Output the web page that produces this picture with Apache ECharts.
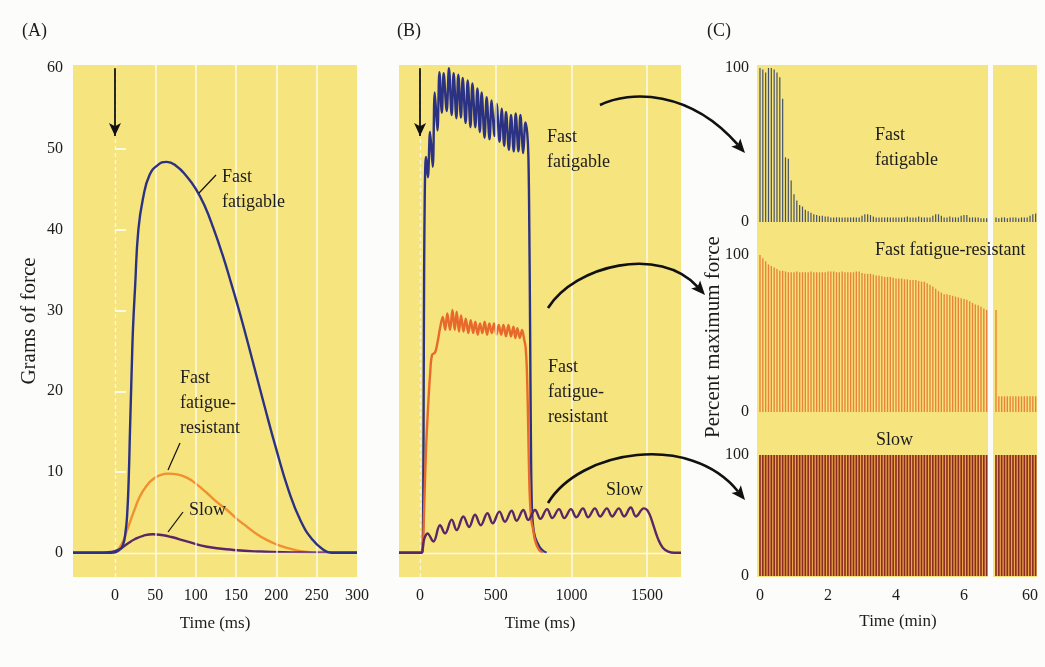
<!DOCTYPE html>
<html><head><meta charset="utf-8">
<script src="https://cdn.jsdelivr.net/npm/echarts@6/dist/echarts.min.js"></script>
<style>html,body{margin:0;padding:0;background:#fcfcfa}#c{width:1045px;height:667px}</style>
</head><body><div id="c"></div>
<script>
// ---------------- DATA ----------------
// Panel A: single twitch, [time ms, grams]
const twitchFF = [[-52,0],[-5,0],[5,0.3],[10,1],[13,2.5],[15,4.5],[17,9],[18.6,15],[20,20],[21,23.5],[22.3,27.6],[25,33],[29,40],[35,44],[43,46.8],[53,48],[64,48.4],[76,47.9],[89,46.6],[100,45.1],[111,43],[122,40.2],[133,37],[144,33.4],[155,29.6],[170,24],[185,18.3],[200,12.8],[215,7.8],[230,4],[245,1.6],[258,0.4],[268,0],[300,0]];
const twitchFR = [[-52,0],[-10,0],[0,0.2],[8,1],[15,2.8],[23,5],[31,7],[40,8.4],[47,9.1],[56,9.6],[66,9.8],[77,9.7],[89,9.3],[101,8.5],[114,7.4],[126,6.3],[139,5.3],[151,4.2],[164,3.2],[176,2.3],[188,1.6],[200,1.05],[213,0.6],[225,0.3],[238,0.1],[255,0],[300,0]];
const twitchS = [[-52,0],[-15,0],[-5,0.1],[5,0.4],[15,1.1],[25,1.7],[35,2.1],[47,2.3],[58,2.2],[70,1.95],[89,1.4],[114,0.75],[147,0.35],[180,0.15],[220,0.05],[260,0],[300,0]];
// Panel B: tetanus, [time ms, grams]
const tetFF = [[-139,0],[14,0],[18,1],[21,6],[24,20],[27,35],[31,44],[35,48],[39.6,49],[52,46.5],[66,52.1],[84,47.8],[97,57],[115,52.3],[128,59.5],[144,54.5],[156,59.4],[176,54.7],[191,60],[209,54.2],[222,59.4],[240,53.8],[253,59.2],[270,53.9],[282,58.8],[301,53.2],[315,58.5],[333,52.7],[346,58.1],[365,52.7],[379,57.5],[395,52.1],[407,57],[426,51.4],[440,56.4],[459,51.2],[473,56],[492,51.6],[506,55.6],[525,50.9],[539,55],[556,50.4],[568,54.6],[587,49.9],[601,54.2],[619,49.7],[632,54.4],[650,49.7],[663,54.2],[682,49.5],[696,53.3],[708,52],[716,49],[722,40],[727,28],[732,15],[737,7],[745,3.6],[760,1.9],[790,0.7],[815,0.2],[837,0]];
const tetFR = [[-139,0],[15,0],[20,1],[28,6],[40,13],[53,18],[66,22],[79,24.5],[99,24.8],[115,26],[132,27.8],[150,29.2],[166,27.6],[180,29.65],[198,27.6],[214,30.06],[229,27.6],[242,29.85],[257,27.4],[271,29.4],[287,27.4],[302,29.0],[319,27.2],[335,28.8],[351,27.2],[365,28.6],[381,27.0],[396,28.4],[412,27.2],[427,28.6],[443,27.0],[458,28.4],[474,27.2],[489,28.4],[505,27.0],[520,28.2],[536,27.0],[551,28.2],[568,26.8],[584,28.2],[601,26.8],[617,28.0],[630,26.6],[643,27.8],[659,26.6],[674,27.6],[688,26.4],[697,25.5],[705,23],[712,18],[718,12],[725,7],[735,4],[746,3],[760,1.5],[785,0.4],[810,0]];
const tetS = [[-139,0],[10,0],[18,0.6],[26,1.6],[36,2.1],[48,2.4],[88,1.4],[132,3.4],[165,2.4],[209,4.1],[242,2.8],[286,4.5],[324,3.2],[363,4.7],[401,3.4],[445,4.9],[480,3.65],[524,5.1],[561,3.85],[605,5.2],[638,3.97],[682,5.3],[715,4.06],[760,5.3],[795,4.2],[839,5.4],[874,4.3],[918,5.4],[953,4.3],[997,5.4],[1032,4.4],[1076,5.5],[1111,4.4],[1155,5.5],[1190,4.5],[1234,5.5],[1269,4.5],[1313,5.5],[1348,4.5],[1392,5.6],[1427,4.5],[1478,5.5],[1500,5.3],[1520,4.6],[1545,3.2],[1575,1.6],[1605,0.6],[1640,0.15],[1680,0],[1724,0]];
// Panel C: percent of maximum force per stimulus train (one every 5 s); right block = around 60 min
const cStepMin = 5 / 60;
const cRightStart = 59;
const ffLeft = [100,99,97,100,100,99,97,94,80,42,41,27,18,14,11,10,8,7,6,5,4.5,4,4,3.5,
  3.5,3,3,3,3,3,3,3,3,3,3,3,
  4,5,5,4.5,3.5,
  3,3,3,3,3,3,3,3,3,3,3,3.5,3,3,3,3.5,3,3,3,3,
  4,5,5,4,
  3,3,3.5,3,3,3,4,4.5,4.5,3,3,3,3,2.5,2.5,2.5];
const ffRight = [3,2.5,3,3,2.5,3,3,3,2.5,3,3,3,4,5,5.5];
const frLeft = [100,98,96,94,93,92,91,90,90,89.5,
  89,89,89,89.5,89,89,89,89,89.5,89,89,89,89,89,89.5,89.5,89.5,89,89,89.5,89,89,89,89,89.5,89.5,
  88.5,88,88,88,87.5,87,87,
  86.5,86,86,86,85.5,85,85,85,84.5,84.5,
  84,84,84,83.5,83,83,82,
  81,80,78.5,
  77,76,75,75,74.5,74,73.5,
  73,72.5,72,71.5,
  70.5,69.5,68.5,68,
  67,66,65];
const frRight = [65,10,10,10,10,10,10,10,10,10,10,10,10,10,10];
const sLeft = [100,100,100,100,100,100,100,100,100,100,100,100,100,100,100,100,100,100,100,100,
  100,100,100,100,100,100,100,100,100,100,100,100,100,100,100,100,100,100,100,100,
  100,100,100,100,100,100,100,100,100,100,100,100,100,100,100,100,100,100,100,100,
  100,100,100,100,100,100,100,100,100,100,100,100,100,100,100,100,100,100,100,100,100];
const sRight = [100,100,100,100,100,100,100,100,100,100,100,100,100,100,100];
// tick labels / gridline positions
const ticksAx = [0,50,100,150,200,250,300];
const ticksAy = [0,10,20,30,40,50,60];
const gridAx = [50,100,150,200,250];
const ticksBx = [0,500,1000,1500];
const gridBx = [500,1000,1500];
const ticksCLeft = [0,2,4,6];
const ticksCRight = [60];
const ticksCy = [0,100];

// ---------------- STYLE ----------------
const FONT = '"Liberation Serif","Times New Roman",serif';
const YEL = '#f6e47f';
const TXT = '#1c1c1c';
const BLUE = '#2c3283', ORANGE_A = '#f0902e', ORANGE_B = '#e8692c', PURPLE = '#5a2666';

const chart = echarts.init(document.getElementById('c'));
const toLeft = a => a.map((v, i) => [i * cStepMin, v]);
const toRight = a => a.map((v, i) => [cRightStart + i * cStepMin, v]);
const plain = v => String(v);
const lab = (extra) => Object.assign({fontFamily: FONT, fontSize: 16, color: TXT}, extra);
const gridBase = {show: true, backgroundColor: YEL, borderWidth: 0, containLabel: false};

const grids = [
  {left: 73, top: 65, width: 284, height: 512},
  {left: 399, top: 65, width: 282, height: 512},
  {left: 757, top: 65, width: 231, height: 172}, {left: 993, top: 65, width: 44, height: 172},
  {left: 757, top: 237, width: 231, height: 188}, {left: 993, top: 237, width: 44, height: 188},
  {left: 757, top: 425, width: 231, height: 152}, {left: 993, top: 425, width: 44, height: 152}
].map(g => Object.assign({}, gridBase, g));

const noAxis = {axisLine: {show: false}, axisTick: {show: false}, splitLine: {show: false}};
const xAxes = [
  Object.assign({gridIndex: 0, type: 'value', min: -52, max: 300, axisLabel: lab({customValues: ticksAx, margin: 11, formatter: plain}),
    name: 'Time (ms)', nameLocation: 'middle', nameGap: 38, nameTextStyle: lab({fontSize: 17})}, noAxis),
  Object.assign({gridIndex: 1, type: 'value', min: -139, max: 1724, axisLabel: lab({customValues: ticksBx, margin: 11, formatter: plain}),
    name: 'Time (ms)', nameLocation: 'middle', nameGap: 38, nameTextStyle: lab({fontSize: 17})}, noAxis)
];
const cxMinL = -0.088, cxMaxL = 6.706, cxMinR = 58.912, cxMaxR = 60.206;
for (let r = 0; r < 3; r++) {
  const bottom = r === 2;
  xAxes.push(Object.assign({gridIndex: 2 + r * 2, type: 'value', min: cxMinL, max: cxMaxL,
    axisLabel: bottom ? lab({customValues: ticksCLeft, margin: 11, formatter: plain}) : {show: false}}, noAxis));
  xAxes.push(Object.assign({gridIndex: 3 + r * 2, type: 'value', min: cxMinR, max: cxMaxR,
    axisLabel: bottom ? lab({customValues: ticksCRight, margin: 11, formatter: plain}) : {show: false}}, noAxis));
}
const yAxes = [
  {gridIndex: 0, type: 'value', min: -3, max: 60.4, axisLine: {show: false}, splitLine: {show: false},
    axisTick: {show: true, inside: true, length: 11, customValues: [10,20,30,40,50], lineStyle: {color: 'rgba(255,255,255,0.8)', width: 2}},
    axisLabel: lab({customValues: ticksAy, margin: 10, formatter: plain}),
    name: 'Grams of force', nameLocation: 'middle', nameGap: 33, nameTextStyle: lab({fontSize: 21})},
  Object.assign({gridIndex: 1, type: 'value', min: -3, max: 60.4, axisLabel: {show: false}}, noAxis)
];
const cyRanges = [[-9.74, 101.95], [-8.28, 111.46], [-0.83, 124.8]];
for (let r = 0; r < 3; r++) {
  yAxes.push(Object.assign({gridIndex: 2 + r * 2, type: 'value', min: cyRanges[r][0], max: cyRanges[r][1],
    axisLabel: lab({customValues: ticksCy, margin: 8, formatter: plain})}, noAxis));
  yAxes.push(Object.assign({gridIndex: 3 + r * 2, type: 'value', min: cyRanges[r][0], max: cyRanges[r][1],
    axisLabel: {show: false}}, noAxis));
}

const lineS = (data, ax, color, z, smooth) => ({type: 'line', data, xAxisIndex: ax, yAxisIndex: ax, showSymbol: false, symbol: 'none',
  smooth, z, lineStyle: {color, width: 2.4}, silent: true});
const whiteLines = (ax, xs) => ({type: 'line', data: [], xAxisIndex: ax, yAxisIndex: ax, z: 1, silent: true,
  markLine: {silent: true, symbol: ['none', 'none'], label: {show: false}, animation: false,
    lineStyle: {color: 'rgba(255,255,255,0.8)', width: 1.6, type: 'solid'},
    data: xs.map(v => ({xAxis: v})).concat([{yAxis: 0, lineStyle: {color: 'rgba(255,255,255,0.75)', width: 1.4}},
      {xAxis: 0, lineStyle: {type: [4, 3], color: 'rgba(255,255,255,0.7)', width: 1.4}}])}});
const stimArrow = (ax) => ({type: 'line', data: [], xAxisIndex: ax, yAxisIndex: ax, z: 6, silent: true,
  markLine: {silent: true, symbol: ['none', 'arrow'], symbolSize: [9, 13], label: {show: false}, animation: false,
    lineStyle: {color: '#111', width: 1.8, type: 'solid'},
    data: [[{coord: [0, 60]}, {coord: [0, 51.6]}]]}});
const barS = (data, ax, color, w, z) => ({type: 'bar', data, xAxisIndex: ax, yAxisIndex: ax, barWidth: w, z,
  itemStyle: {color}, silent: true, animation: false});

const series = [
  whiteLines(0, gridAx), stimArrow(0),
  lineS(twitchFR, 0, ORANGE_A, 3, 0.5), lineS(twitchS, 0, PURPLE, 4, 0.5), lineS(twitchFF, 0, BLUE, 5, 0.5),
  whiteLines(1, gridBx), stimArrow(1),
  lineS(tetFF, 1, BLUE, 3, 0.35), lineS(tetFR, 1, ORANGE_B, 4, 0.35), lineS(tetS, 1, PURPLE, 5, 0.4),
  barS(toLeft(ffLeft), 2, '#46526a', 1.2, 3), barS(toRight(ffRight), 3, '#46526a', 1.2, 3),
  barS(toLeft(frLeft), 4, '#e8843a', 1.4, 3), barS(toRight(frRight), 5, '#e8843a', 1.4, 3),
  {type: 'line', data: [], xAxisIndex: 6, yAxisIndex: 6, z: 1, silent: true,
    markArea: {silent: true, itemStyle: {color: '#eaa646'}, data: [[{xAxis: -0.02, yAxis: 0}, {xAxis: 80 * cStepMin + 0.02, yAxis: 100}]]}},
  {type: 'line', data: [], xAxisIndex: 7, yAxisIndex: 7, z: 1, silent: true,
    markArea: {silent: true, itemStyle: {color: '#eaa646'}, data: [[{xAxis: cRightStart - 0.02, yAxis: 0}, {xAxis: cRightStart + 14 * cStepMin + 0.02, yAxis: 100}]]}},
  barS(toLeft(sLeft), 6, '#8a2c22', 1.6, 3), barS(toRight(sRight), 7, '#8a2c22', 1.6, 3)
];

// ---------------- ANNOTATIONS (layout) ----------------
const tx = (text, x, y, size, extra) => Object.assign({type: 'text', x, y, silent: true, z: 20,
  style: {text, font: (size || 18) + 'px ' + FONT, fill: TXT, lineHeight: 25, verticalAlign: 'top'}}, extra || {});
const seg = (x1, y1, x2, y2, w) => ({type: 'line', silent: true, z: 20, shape: {x1, y1, x2, y2}, style: {stroke: '#111', lineWidth: w || 1.2}});
function curvedArrow(p0, p1, p2, p3) {
  const dx = p3[0] - p2[0], dy = p3[1] - p2[1], L = Math.hypot(dx, dy), ux = dx / L, uy = dy / L;
  const len = 14, half = 6;
  const bx = p3[0] - ux * len, by = p3[1] - uy * len;
  return [
    {type: 'bezierCurve', silent: true, z: 20, shape: {x1: p0[0], y1: p0[1], cpx1: p1[0], cpy1: p1[1], cpx2: p2[0], cpy2: p2[1], x2: bx + ux * 3, y2: by + uy * 3},
      style: {stroke: '#111', lineWidth: 2.6, fill: null}},
    {type: 'polygon', silent: true, z: 20, shape: {points: [[p3[0], p3[1]], [bx - uy * half, by + ux * half], [bx + ux * 3, by + uy * 3], [bx + uy * half, by - ux * half]]},
      style: {fill: '#111'}}
  ];
}
const graphic = [
  tx('(A)', 22, 19), tx('(B)', 397, 19), tx('(C)', 707, 19),
  tx('Fast\nfatigable', 222, 165), seg(199, 193, 216, 175),
  tx('Fast\nfatigue-\nresistant', 180, 366), seg(168, 470, 180, 443),
  tx('Slow', 189, 498), seg(168, 532, 183, 512),
  tx('Fast\nfatigable', 547, 125),
  tx('Fast\nfatigue-\nresistant', 548, 355),
  tx('Slow', 606, 478),
  tx('Fast\nfatigable', 875, 123),
  tx('Fast fatigue-resistant', 875, 238),
  tx('Slow', 876, 428),
  tx('Time (min)', 898, 609, 17, {style: {text: 'Time (min)', font: '17px ' + FONT, fill: TXT, align: 'center', verticalAlign: 'top', lineHeight: 25}}),
  {type: 'text', x: 713, y: 337, rotation: Math.PI / 2, silent: true, z: 20,
    style: {text: 'Percent maximum force', font: '21px ' + FONT, fill: TXT, align: 'center', verticalAlign: 'middle'}}
].concat(
  curvedArrow([600, 105], [630, 90], [690, 90], [745, 153]),
  curvedArrow([548, 308], [575, 265], [660, 245], [705, 295]),
  curvedArrow([548, 503], [580, 450], [690, 432], [745, 500])
);

chart.setOption({
  backgroundColor: '#fcfcfa',
  animation: false,
  grid: grids,
  xAxis: xAxes,
  yAxis: yAxes,
  series,
  graphic
});
</script></body></html>
